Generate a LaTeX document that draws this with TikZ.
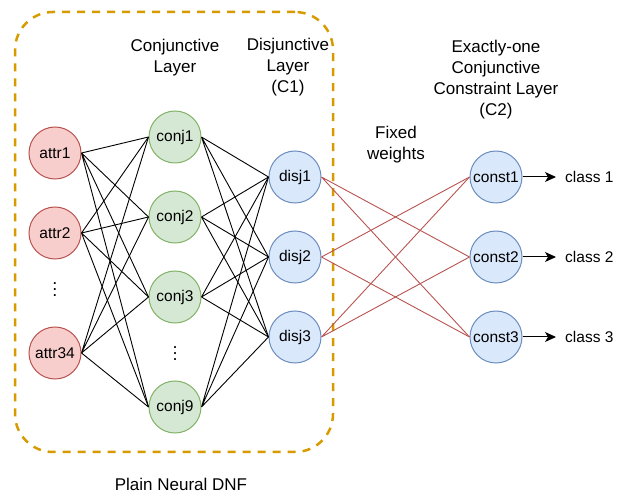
\documentclass[tikz,border=0pt]{standalone}
\usepackage{fontspec}
\setmainfont{Liberation Sans}
\usetikzlibrary{arrows.meta}
\usepackage{xcolor}
\definecolor{attrfill}{HTML}{F8CECC}
\definecolor{attrdraw}{HTML}{B85450}
\definecolor{conjfill}{HTML}{D5E8D4}
\definecolor{conjdraw}{HTML}{82B366}
\definecolor{disjfill}{HTML}{DAE8FC}
\definecolor{disjdraw}{HTML}{6C8EBF}
\definecolor{dnforange}{HTML}{D79B00}
% three stacked dots
\newcommand{\layerdots}{\vbox{\baselineskip6pt\lineskiplimit0pt\hbox{.}\hbox{.}\hbox{.}}}

\begin{document}
\begin{tikzpicture}[x=1pt, y=-1pt]
        % ================= styles =================
        \tikzset{
            % circle units
            unit/.style={circle, line width=1pt, minimum size=52pt, inner sep=0pt, font=\fontsize{15.5}{18}\selectfont},
            attrnode/.style={unit, draw=attrdraw, fill=attrfill},
            conjnode/.style={unit, draw=conjdraw, fill=conjfill},
            disjnode/.style={unit, draw=disjdraw, fill=disjfill},
            % connectors
            edge/.style={line width=0.9pt, black},
            fixededge/.style={line width=0.9pt, attrdraw},
            outarrow/.style={line width=1pt, black, -{Stealth[length=11pt, width=10pt, inset=3pt]}},
            % texts
            laytext/.style={align=center, font=\fontsize{17}{21}\selectfont},
            dotstext/.style={inner sep=0pt, font=\fontsize{18}{18}\selectfont},
            classtext/.style={anchor=west, inner xsep=9pt, font=\fontsize{15.5}{18}\selectfont},
            dnfbox/.style={rectangle, draw=dnforange, line width=2.5pt, rounded corners=38pt, dash pattern=on 8pt off 7pt, minimum width=318pt, minimum height=440pt}
        }
        \useasboundingbox (0,0) rectangle (619,494);

        % ================= plain neural DNF box =================
        \node[dnfbox] (plaindnf) at (174,232) {};
        \node[laytext, inner sep=0pt] (dnftext) at (181,484) {Plain Neural DNF};

        % ================= layer titles =================
        \node[laytext] (conjtitle) at (175,58) {Conjunctive\\Layer};
        \node[laytext] (disjtitle) at (288,67) {Disjunctive\\Layer\\(C1)};
        \node[laytext] (consttitle) at (496,80) {Exactly-one\\Conjunctive\\Constraint Layer\\(C2)};
        \node[laytext] (fixedtitle) at (396,145) {Fixed\\weights};

        % ================= nodes =================
        \node[attrnode] (attr1) at (55,153) {attr1};
        \node[attrnode] (attr2) at (55,233) {attr2};
        \node[dotstext] (attrdots) at (55,290) {\layerdots};
        \node[attrnode] (attr34) at (55,353) {attr34};

        \node[conjnode] (conj1) at (175,137) {conj1};
        \node[conjnode] (conj2) at (175,217) {conj2};
        \node[conjnode] (conj3) at (175,297) {conj3};
        \node[dotstext] (conjdots) at (175,354) {\layerdots};
        \node[conjnode] (conj9) at (175,407) {conj9};

        \node[disjnode] (disj1) at (295,177) {disj1};
        \node[disjnode] (disj2) at (295,257) {disj2};
        \node[disjnode] (disj3) at (295,337) {disj3};

        \node[disjnode] (const1) at (496,177) {const1};
        \node[disjnode] (const2) at (496,257) {const2};
        \node[disjnode] (const3) at (496,337) {const3};

        \node[classtext] (class1) at (556,177) {class 1};
        \node[classtext] (class2) at (556,257) {class 2};
        \node[classtext] (class3) at (556,337) {class 3};

        % ================= edges =================
        % 1. attributes to conjunctions
        \draw[edge] (attr1.east) -- (conj1.west) (attr1.east) -- (conj2.west) (attr1.east) -- (conj3.west) (attr1.east) -- (conj9.west);
        \draw[edge] (attr2.east) -- (conj1.west) (attr2.east) -- (conj2.west) (attr2.east) -- (conj3.west) (attr2.east) -- (conj9.west);
        \draw[edge] (attr34.east) -- (conj1.west) (attr34.east) -- (conj2.west) (attr34.east) -- (conj3.west) (attr34.east) -- (conj9.west);

        % 2. conjunctions to disjunctions
        \draw[edge] (conj1.east) -- (disj1.west) (conj1.east) -- (disj2.west) (conj1.east) -- (disj3.west);
        \draw[edge] (conj2.east) -- (disj1.west) (conj2.east) -- (disj2.west) (conj2.east) -- (disj3.west);
        \draw[edge] (conj3.east) -- (disj1.west) (conj3.east) -- (disj2.west) (conj3.east) -- (disj3.west);
        \draw[edge] (conj9.east) -- (disj1.west) (conj9.east) -- (disj2.west) (conj9.east) -- (disj3.west);

        % 3. fixed weights (each disj to the other two constraints)
        \draw[fixededge] (disj1.east) -- (const2.west) (disj1.east) -- (const3.west);
        \draw[fixededge] (disj2.east) -- (const1.west) (disj2.east) -- (const3.west);
        \draw[fixededge] (disj3.east) -- (const1.west) (disj3.east) -- (const2.west);

        % 4. outputs
        \draw[outarrow] (const1.east) -- (class1.west);
        \draw[outarrow] (const2.east) -- (class2.west);
        \draw[outarrow] (const3.east) -- (class3.west);

    \end{tikzpicture}
\end{document}
